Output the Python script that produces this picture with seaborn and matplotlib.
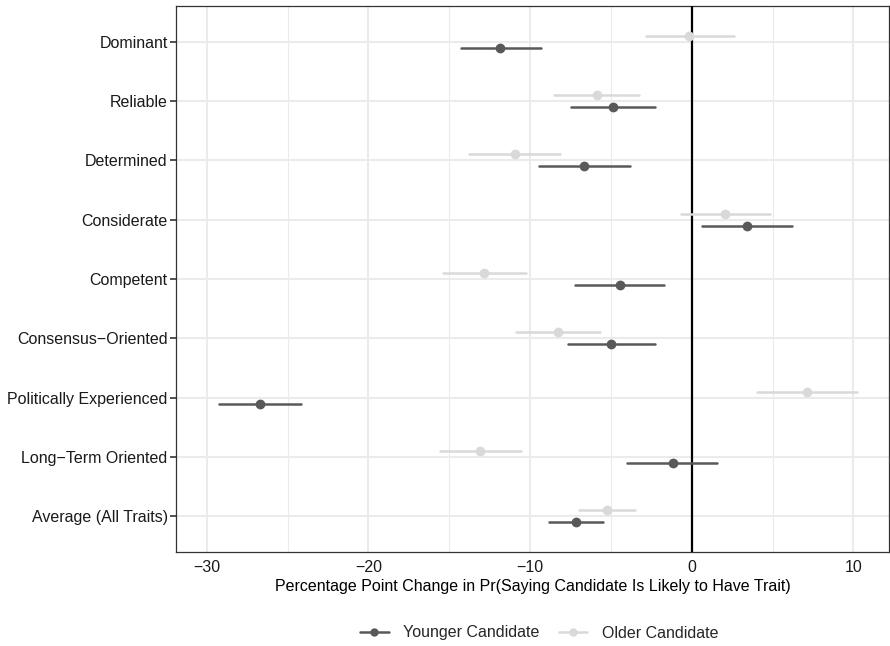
import numpy as np
import pandas as pd
import matplotlib
matplotlib.use("Agg")
import matplotlib.pyplot as plt
from matplotlib.ticker import MultipleLocator
from matplotlib.lines import Line2D
import seaborn as sns

traits = ["Dominant", "Reliable", "Determined", "Considerate", "Competent",
          "Consensus\u2212Oriented", "Politically Experienced",
          "Long\u2212Term Oriented", "Average (All Traits)"]

# estimate and 95% interval
younger_est = [-11.85, -4.90, -6.65, 3.41, -4.46, -4.97, -26.68, -1.19, -7.16]
younger_lo = [-14.30, -7.44, -9.43, 0.65, -7.20, -7.64, -29.23, -3.98, -8.86]
younger_hi = [-9.30, -2.27, -3.84, 6.19, -1.70, -2.27, -24.15, 1.59, -5.48]

older_est = [-0.20, -5.88, -10.94, 2.07, -12.84, -8.30, 7.10, -13.07, -5.26]
older_lo = [-2.84, -8.50, -13.75, -0.65, -15.40, -10.90, 4.06, -15.60, -6.96]
older_hi = [2.64, -3.27, -8.15, 4.83, -10.26, -5.70, 10.23, -10.57, -3.49]

groups = ["Younger Candidate", "Older Candidate"]
colors = {"Younger Candidate": "#595959", "Older Candidate": "#d9d9d9"}

rows = []
for g, est, lo, hi in [(groups[0], younger_est, younger_lo, younger_hi),
                       (groups[1], older_est, older_lo, older_hi)]:
    for t, e, l, h in zip(traits, est, lo, hi):
        for v in (l, e, h):
            rows.append({"trait": t, "group": g, "value": v})
df = pd.DataFrame(rows)

sns.set_style("white")
plt.rcParams["font.family"] = ["Liberation Sans", "DejaVu Sans"]

fig = plt.figure(figsize=(8.9, 6.46), dpi=100)
ax = fig.add_axes([176 / 890, 1 - 552 / 646, 713 / 890, 546 / 646])

ax.axvline(0, color="black", lw=1.6, zorder=3)

sns.pointplot(data=df, x="value", y="trait", hue="group", order=traits,
              hue_order=["Older Candidate", "Younger Candidate"],
              palette=colors, estimator="median",
              errorbar=lambda v: (v.min(), v.max()),
              dodge=0.2, linestyle="none", markers="o", markersize=5,
              err_kws={"linewidth": 1.8}, ax=ax, zorder=4)

ax.set_xlim(-31.9, 12.2)
ax.set_ylim(8.6, -0.6)
ax.xaxis.set_major_locator(MultipleLocator(10))
ax.xaxis.set_minor_locator(MultipleLocator(5))
ax.set_xticklabels([f"{int(t)}".replace("-", "\u2212") for t in ax.get_xticks()])

ax.grid(True, which="major", color="#ebebeb", lw=1.5, zorder=0)
ax.grid(True, which="minor", axis="x", color="#ebebeb", lw=0.8, zorder=0)
ax.set_axisbelow(True)

for s in ax.spines.values():
    s.set_color("#333333")
    s.set_linewidth(0.9)

ax.tick_params(axis="y", which="major", length=4, width=1.2, color="#333333",
               labelsize=11.5, labelcolor="#1a1a1a", pad=2, left=True)
ax.tick_params(axis="x", which="both", length=0, labelsize=11.5,
               labelcolor="#1a1a1a", pad=6)

ax.set_ylabel("")
ax.set_xlabel("Percentage Point Change in Pr(Saying Candidate Is Likely to Have Trait)",
              fontsize=11.5, color="black", labelpad=3)

ax.get_legend().remove()
handles = [Line2D([], [], color=colors[g], marker="o", markersize=5, lw=1.8)
           for g in groups]
fig.legend(handles, groups, loc="center", bbox_to_anchor=(539 / 890, 1 - 633 / 646),
           ncol=2, frameon=False, fontsize=11.5, handlelength=1.8,
           columnspacing=1.2, handletextpad=0.9)

fig.savefig("out.png", dpi=100)
